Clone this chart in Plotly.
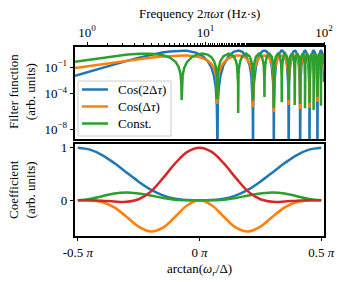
import plotly.graph_objects as go

# ---------------- Top panel: filter functions vs frequency 2*pi*omega*tau ----------------
freq = [
    0.79, 1.0, 1.3, 1.7, 2.2, 2.8, 3.5, 4.3, 5.0, 5.6, 5.95, 6.15, 6.24, 6.283,
    6.32, 6.41, 6.61, 6.96, 7.6, 8.4, 9.42, 10.4, 11.2, 11.8, 12.2, 12.45, 12.54, 12.566,
    12.606, 12.696, 12.916, 13.366, 14.166, 15.708, 17.249, 18.049, 18.499, 18.719, 18.809, 18.850,
    18.890, 18.980, 19.200, 19.650, 20.450, 21.991, 23.533, 24.333, 24.783, 25.003, 25.093, 25.133,
    25.233, 25.633, 26.633, 28.274, 29.916, 30.916, 31.316, 31.416,
    31.516, 31.916, 32.916, 34.558, 36.199, 37.199, 37.599, 37.699,
    37.799, 38.199, 39.199, 40.841, 42.482, 43.482, 43.882, 43.982,
    44.082, 44.482, 45.482, 47.124, 48.765, 49.765, 50.165, 50.265,
    50.365, 50.765, 51.765, 53.407, 55.049, 56.049, 56.449, 56.549,
    56.649, 57.049, 58.049, 59.690, 61.332, 62.332, 62.732, 62.832,
    62.932, 63.332, 64.332, 65.973, 67.615, 68.615, 69.015, 69.115,
    69.215, 69.615, 70.615, 72.257, 73.898, 74.898, 75.298, 75.398,
    75.498, 75.898, 76.898, 78.540, 80.181, 81.181, 81.581, 81.681,
    81.781, 82.181, 83.181, 84.823, 86.464, 87.464, 87.864, 87.965,
    88.065, 88.465, 89.465, 91.106, 92.748, 93.748, 94.148, 94.248,
    94.348, 94.748, 95.748, 97.389, 99.031, 100.0,
]

ff_cos2 = [
    0.0104, 0.0262, 0.0728, 0.202, 0.522, 1.205, 2.43, 4.19, 5.68, 6.60, 6.90, 7.0, 7.0, 7.0,
    7.0, 7.0, 6.9, 6.61, 5.61, 3.89, 1.76, 0.494, 0.0881, 0.0092, 4.9e-4, 5.0e-6, 1.3e-8, 1e-12,
    7e-8, 7.8e-6, 4.1e-4, 0.0109, 0.161, 1.75, 5.03, 6.46, 6.89, 6.99, 7.0, 7.0,
    7.0, 6.99, 6.89, 6.46, 5.03, 1.75, 0.161, 0.0109, 4.1e-4, 7.8e-6, 7e-8, 1e-12,
    2.7e-6, 0.0017, 0.126, 1.75, 5.25, 6.78, 7.0, 7.0,
    7.0, 6.78, 5.25, 1.75, 0.126, 0.0017, 2.7e-6, 1e-12,
    2.7e-6, 0.0017, 0.126, 1.75, 5.25, 6.78, 7.0, 7.0,
    7.0, 6.78, 5.25, 1.75, 0.126, 0.0017, 2.7e-6, 1e-12,
    2.7e-6, 0.0017, 0.126, 1.75, 5.25, 6.78, 7.0, 7.0,
    7.0, 6.78, 5.25, 1.75, 0.126, 0.0017, 2.7e-6, 1e-12,
    2.7e-6, 0.0017, 0.126, 1.75, 5.25, 6.78, 7.0, 7.0,
    7.0, 6.78, 5.25, 1.75, 0.126, 0.0017, 2.7e-6, 1e-12,
    2.7e-6, 0.0017, 0.126, 1.75, 5.25, 6.78, 7.0, 7.0,
    7.0, 6.78, 5.25, 1.75, 0.126, 0.0017, 2.7e-6, 1e-12,
    2.7e-6, 0.0017, 0.126, 1.75, 5.25, 6.78, 7.0, 7.0,
    7.0, 6.78, 5.25, 1.75, 0.126, 0.0021,
]

ff_cos1 = [
    0.077, 0.122, 0.204, 0.340, 0.546, 0.830, 1.178, 1.547, 1.80, 1.94, 1.99, 2.0, 2.0, 2.0,
    2.0, 2.0, 1.99, 1.94, 1.79, 1.49, 1.0, 0.532, 0.224, 0.0725, 0.0167, 0.0017, 8.7e-5, 6.9e-6,
    2e-4, 0.00211, 0.0153, 0.0789, 0.303, 1.0, 1.70, 1.92, 1.98, 2.0, 2.0, 2.0,
    2.0, 2.0, 1.98, 1.92, 1.70, 1.0, 0.303, 0.0789, 0.0153, 0.00211, 2e-4, 3.2e-6,
    0.00125, 0.0311, 0.268, 1.0, 1.73, 1.97, 2.0, 2.0,
    2.0, 1.97, 1.73, 1.0, 0.268, 0.0311, 0.00125, 8.7e-7,
    0.00125, 0.0311, 0.268, 1.0, 1.73, 1.97, 2.0, 2.0,
    2.0, 1.97, 1.73, 1.0, 0.268, 0.0311, 0.00125, 5.4e-6,
    0.00125, 0.0311, 0.268, 1.0, 1.73, 1.97, 2.0, 2.0,
    2.0, 1.97, 1.73, 1.0, 0.268, 0.0311, 0.00125, 1.9e-6,
    0.00125, 0.0311, 0.268, 1.0, 1.73, 1.97, 2.0, 2.0,
    2.0, 1.97, 1.73, 1.0, 0.268, 0.0311, 0.00125, 2.5e-6,
    0.00125, 0.0311, 0.268, 1.0, 1.73, 1.97, 2.0, 2.0,
    2.0, 1.97, 1.73, 1.0, 0.268, 0.0311, 0.00125, 1.2e-5,
    0.00125, 0.0311, 0.268, 1.0, 1.73, 1.97, 2.0, 2.0,
    2.0, 1.97, 1.73, 1.0, 0.268, 0.0349,
]

ff_const = [
    0.40, 0.63, 1.05, 1.70, 2.54, 3.11, 3.10, 2.24, 1.146, 0.359, 0.0881, 0.0142, 0.00149, 2e-5,
    0.0011, 0.0129, 0.0848, 0.353, 1.20, 2.43, 3.2, 2.50, 1.275, 0.446, 0.106, 0.0108, 0.00055, 2.5e-5,
    0.00128, 0.0135, 0.0973, 0.485, 1.647, 3.2, 1.647, 0.485, 0.0973, 0.0135, 0.00128, 6.8e-7,
    0.00128, 0.0135, 0.0973, 0.485, 1.647, 3.2, 1.647, 0.485, 0.0973, 0.0135, 0.00128, 1.6e-5,
    0.008, 0.196, 1.487, 3.2, 1.487, 0.196, 0.008, 4.3e-5,
    0.008, 0.196, 1.487, 3.2, 1.487, 0.196, 0.008, 2.5e-6,
    0.008, 0.196, 1.487, 3.2, 1.487, 0.196, 0.008, 1.1e-5,
    0.008, 0.196, 1.487, 3.2, 1.487, 0.196, 0.008, 2e-5,
    0.008, 0.196, 1.487, 3.2, 1.487, 0.196, 0.008, 5.4e-6,
    0.008, 0.196, 1.487, 3.2, 1.487, 0.196, 0.008, 6.9e-6,
    0.008, 0.196, 1.487, 3.2, 1.487, 0.196, 0.008, 2.3e-6,
    0.008, 0.196, 1.487, 3.2, 1.487, 0.196, 0.008, 8.9e-6,
    0.008, 0.196, 1.487, 3.2, 1.487, 0.196, 0.008, 1.5e-6,
    0.008, 0.196, 1.487, 3.2, 1.487, 0.196, 0.008, 4.3e-5,
    0.008, 0.196, 1.487, 3.2, 1.487, 0.196, 0.008, 4.5e-6,
    0.008, 0.196, 1.487, 3.2, 1.487, 0.22,
]

series_names = ["Cos(2Δ<i>τ</i>)", "Cos(Δ<i>τ</i>)", "Const."]
freq_ticks = [1, 10, 100]
freq_ticktext = ["10<sup>0</sup>", "10<sup>1</sup>", "10<sup>2</sup>"]
ff_ticks = [1e-1, 1e-4, 1e-8]
ff_ticktext = ["10<sup>−1</sup>", "10<sup>−4</sup>", "10<sup>−8</sup>"]

# ---------------- Bottom panel: coefficients vs arctan(omega_r / Delta) (in units of pi) ----------------
theta_pi = [-0.5, -0.45, -0.4, -0.35, -0.3, -0.25, -0.2, -0.15, -0.1, -0.05, 0.0,
            0.05, 0.1, 0.15, 0.2, 0.25, 0.3, 0.35, 0.4, 0.45, 0.5]
coef_cos2 = [1.0, 0.963, 0.86, 0.707, 0.529, 0.354, 0.203, 0.094, 0.03, 0.006, 0.0,
             0.006, 0.03, 0.094, 0.203, 0.354, 0.529, 0.707, 0.86, 0.963, 1.0]
coef_cos1 = [0.0, -0.002, -0.033, -0.135, -0.313, -0.5, -0.592, -0.52, -0.313, -0.093, 0.0,
             -0.093, -0.313, -0.52, -0.592, -0.5, -0.313, -0.135, -0.033, -0.002, 0.0]
coef_const = [0.0, 0.023, 0.078, 0.13, 0.15, 0.128, 0.09, 0.045, 0.012, 0.001, 0.0,
              0.001, 0.012, 0.045, 0.09, 0.128, 0.15, 0.13, 0.078, 0.023, 0.0]
coef_other = [0.0, -0.001, -0.008, -0.024, -0.028, 0.02, 0.165, 0.42, 0.70, 0.92, 1.0,
              0.92, 0.70, 0.42, 0.165, 0.02, -0.028, -0.024, -0.008, -0.001, 0.0]
theta_ticks = [-0.5, 0.0, 0.5]
theta_ticktext = ["-0.5 <i>π</i>", "0 <i>π</i>", "0.5 <i>π</i>"]
coef_ticks = [0, 1]

colors = ["#1f77b4", "#ff7f0e", "#2ca02c", "#d62728"]
LW = 2.5

fig = go.Figure()
for ys, nm, c in zip([ff_cos2, ff_cos1, ff_const], series_names, colors[:3]):
    fig.add_trace(go.Scatter(x=freq, y=ys, mode="lines", name=nm, showlegend=False,
                             line=dict(color=c, width=LW), xaxis="x", yaxis="y"))

for ys, c in zip([coef_cos2, coef_cos1, coef_const, coef_other], colors):
    fig.add_trace(go.Scatter(x=theta_pi, y=ys, mode="lines", showlegend=False,
                             line=dict(color=c, width=LW, shape="spline"),
                             xaxis="x2", yaxis="y2"))

FONT = "Liberation Serif, DejaVu Serif, serif"
FS = 13
axis_common = dict(showline=True, mirror=True, linecolor="black", linewidth=1.5,
                   showgrid=False, zeroline=False, ticks="outside", ticklen=3.5,
                   tickwidth=1, tickcolor="black", automargin=False,
                   tickfont=dict(size=FS, family=FONT))

# plot area in pixels: x 75..324, y 47..236
L_PX, R_PX, T_PX, B_PX = 75, 324, 47, 236
def px_x(p):
    return (p - L_PX) / (R_PX - L_PX)
def px_y(p):
    return (B_PX - p) / (B_PX - T_PX)

fig.update_layout(
    width=345, height=282,
    margin=dict(l=L_PX, r=345 - R_PX, t=T_PX, b=282 - B_PX),
    paper_bgcolor="white", plot_bgcolor="white",
    font=dict(family=FONT, size=FS, color="black"),
    showlegend=False,
    xaxis=dict(type="log", range=[-0.1024, 2], domain=[0, 1], anchor="y", side="top",
               tickmode="array", tickvals=freq_ticks, ticktext=freq_ticktext,
               minor=dict(ticks="outside", ticklen=2, tickwidth=0.8, tickcolor="black",
                          showgrid=False),
               **axis_common),
    yaxis=dict(type="log", range=[-9.1, 1.25], domain=[px_y(139), 1], anchor="x",
               tickmode="array", tickvals=ff_ticks, ticktext=ff_ticktext, **axis_common),
    xaxis2=dict(range=[-0.5115, 0.5115], domain=[0, 1], anchor="y2",
                tickmode="array", tickvals=theta_ticks, ticktext=theta_ticktext, **axis_common),
    yaxis2=dict(range=[-0.679, 1.07], domain=[0, px_y(144)], anchor="x2",
                tickmode="array", tickvals=coef_ticks, **axis_common),
)

# legend box drawn by hand (matplotlib-like compact legend)
fig.add_shape(type="rect", xref="paper", yref="paper",
              x0=px_x(78), x1=px_x(171), y0=px_y(136), y1=px_y(81),
              line=dict(color="#cccccc", width=1), fillcolor="rgba(255,255,255,0.85)")
legend_rows = [89.5, 106.5, 123.5]
for nm, c, yp in zip(series_names, colors[:3], legend_rows):
    fig.add_shape(type="line", xref="paper", yref="paper",
                  x0=px_x(82), x1=px_x(108), y0=px_y(yp), y1=px_y(yp),
                  line=dict(color=c, width=LW))
    fig.add_annotation(text=nm, xref="paper", yref="paper", x=px_x(116), y=px_y(yp),
                       xanchor="left", yanchor="middle", showarrow=False,
                       font=dict(size=FS, family=FONT))

ann = dict(xref="paper", yref="paper", showarrow=False, font=dict(size=FS, family=FONT))
fig.add_annotation(text="Frequency 2<i>πωτ</i> (Hz·s)", x=0.5, y=px_y(14),
                   xanchor="center", yanchor="middle", **ann)
fig.add_annotation(text="arctan(<i>ω<sub>r</sub></i>/Δ)", x=px_x(199), y=px_y(269),
                   xanchor="center", yanchor="middle", **ann)
fig.add_annotation(text="Filter function<br>(arb. units)", x=px_x(22), y=px_y(92),
                   textangle=-90, xanchor="center", yanchor="middle", **ann)
fig.add_annotation(text="Coefficient<br>(arb. units)", x=px_x(22), y=px_y(190),
                   textangle=-90, xanchor="center", yanchor="middle", **ann)

fig.write_html("out.html", config={"displayModeBar": False},
               post_script="document.body.style.margin='0';")
